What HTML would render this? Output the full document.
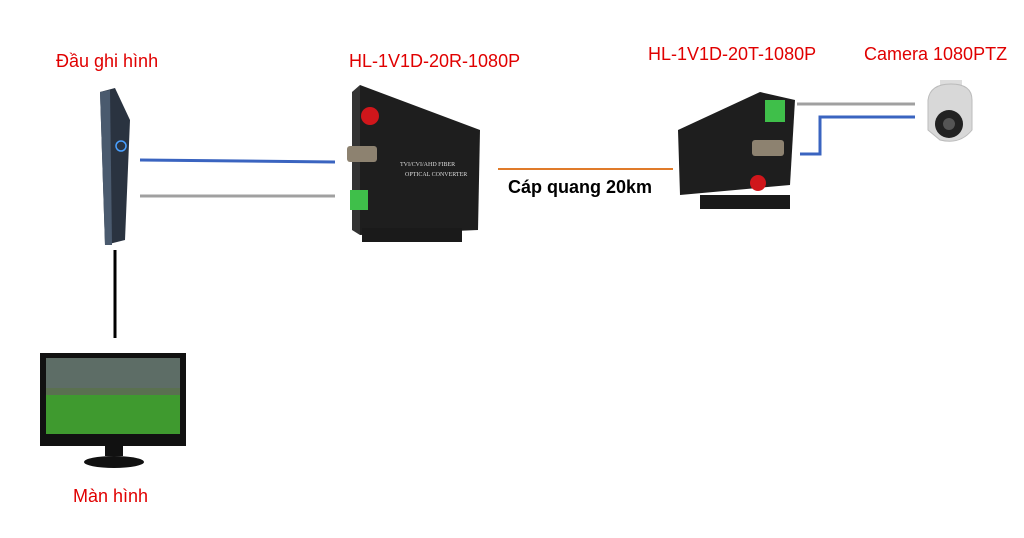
<!DOCTYPE html>
<html><head><meta charset="utf-8"><style>
body{margin:0;width:1024px;height:538px;background:#fff;overflow:hidden;position:relative;font-family:"Liberation Sans","Noto Sans CJK SC",sans-serif}
.t{position:absolute;font-size:18px;color:#e00000;white-space:nowrap}
</style></head><body>
<div class="t" style="left:56px;top:51px">Đầu ghi hình</div>
<div class="t" style="left:349px;top:51px">HL-1V1D-20R-1080P</div>
<div class="t" style="left:648px;top:44px">HL-1V1D-20T-1080P</div>
<div class="t" style="left:864px;top:44px">Camera 1080PTZ</div>
<div class="t" style="left:73px;top:486px">Màn hình</div>
<div class="t" style="left:508px;top:177px;color:#000;font-weight:bold">Cáp quang 20km</div>
<svg width="1024" height="538" style="position:absolute;left:0;top:0">
<line x1="140" y1="160" x2="335" y2="162" stroke="#3a64c0" stroke-width="3"/>
<line x1="140" y1="196" x2="335" y2="196" stroke="#a0a0a0" stroke-width="3"/>
<line x1="498" y1="169" x2="673" y2="169" stroke="#e07b2a" stroke-width="2"/>
<line x1="797" y1="104" x2="915" y2="104" stroke="#a0a0a0" stroke-width="3"/>
<polyline points="800,154 820,154 820,117 915,117" fill="none" stroke="#3a64c0" stroke-width="3"/>
<line x1="115" y1="250" x2="115" y2="338" stroke="#000" stroke-width="3"/>
<polygon points="100,92 115,88 130,120 125,240 105,245" fill="#2a3340"/>
<polygon points="100,92 110,90 112,245 105,245" fill="#4a5a6e"/>
<circle cx="121" cy="146" r="5" fill="none" stroke="#4aa0ff" stroke-width="1.5"/>
<polygon points="360,85 480,130 478,230 360,235" fill="#1e1e1e"/>
<polygon points="352,92 360,85 360,235 352,230" fill="#333"/>
<rect x="362" y="228" width="100" height="14" fill="#1a1a1a"/>
<circle cx="370" cy="116" r="9" fill="#d0161b"/>
<rect x="347" y="146" width="30" height="16" rx="3" fill="#8d8270"/>
<rect x="350" y="190" width="18" height="20" fill="#3fbf4a"/>
<text x="400" y="166" font-size="6" fill="#ddd" font-family="Liberation Serif">TVI/CVI/AHD FIBER</text>
<text x="405" y="176" font-size="6" fill="#ddd" font-family="Liberation Serif">OPTICAL CONVERTER</text>
<polygon points="678,130 760,92 795,100 790,185 680,195" fill="#1e1e1e"/>
<rect x="700" y="195" width="90" height="14" fill="#1a1a1a"/>
<rect x="765" y="100" width="20" height="22" fill="#3fbf4a"/>
<rect x="752" y="140" width="32" height="16" rx="3" fill="#8d8270"/>
<circle cx="758" cy="183" r="8" fill="#d0161b"/>
<rect x="940" y="80" width="22" height="12" fill="#ddd"/>
<path d="M928 100 Q930 84 951 84 Q972 84 972 100 L972 130 Q960 145 940 140 L928 130 Z" fill="#d8d8d8" stroke="#bbb"/>
<circle cx="949" cy="124" r="14" fill="#222"/>
<circle cx="949" cy="124" r="6" fill="#555"/>
<rect x="40" y="353" width="146" height="93" fill="#111"/>
<rect x="46" y="358" width="134" height="76" fill="#5a7050"/>
<rect x="46" y="358" width="134" height="30" fill="#5d6d66"/>
<rect x="46" y="395" width="134" height="39" fill="#3f9a2f"/>
<rect x="105" y="446" width="18" height="10" fill="#111"/>
<ellipse cx="114" cy="462" rx="30" ry="6" fill="#111"/>
</svg>
</body></html>
